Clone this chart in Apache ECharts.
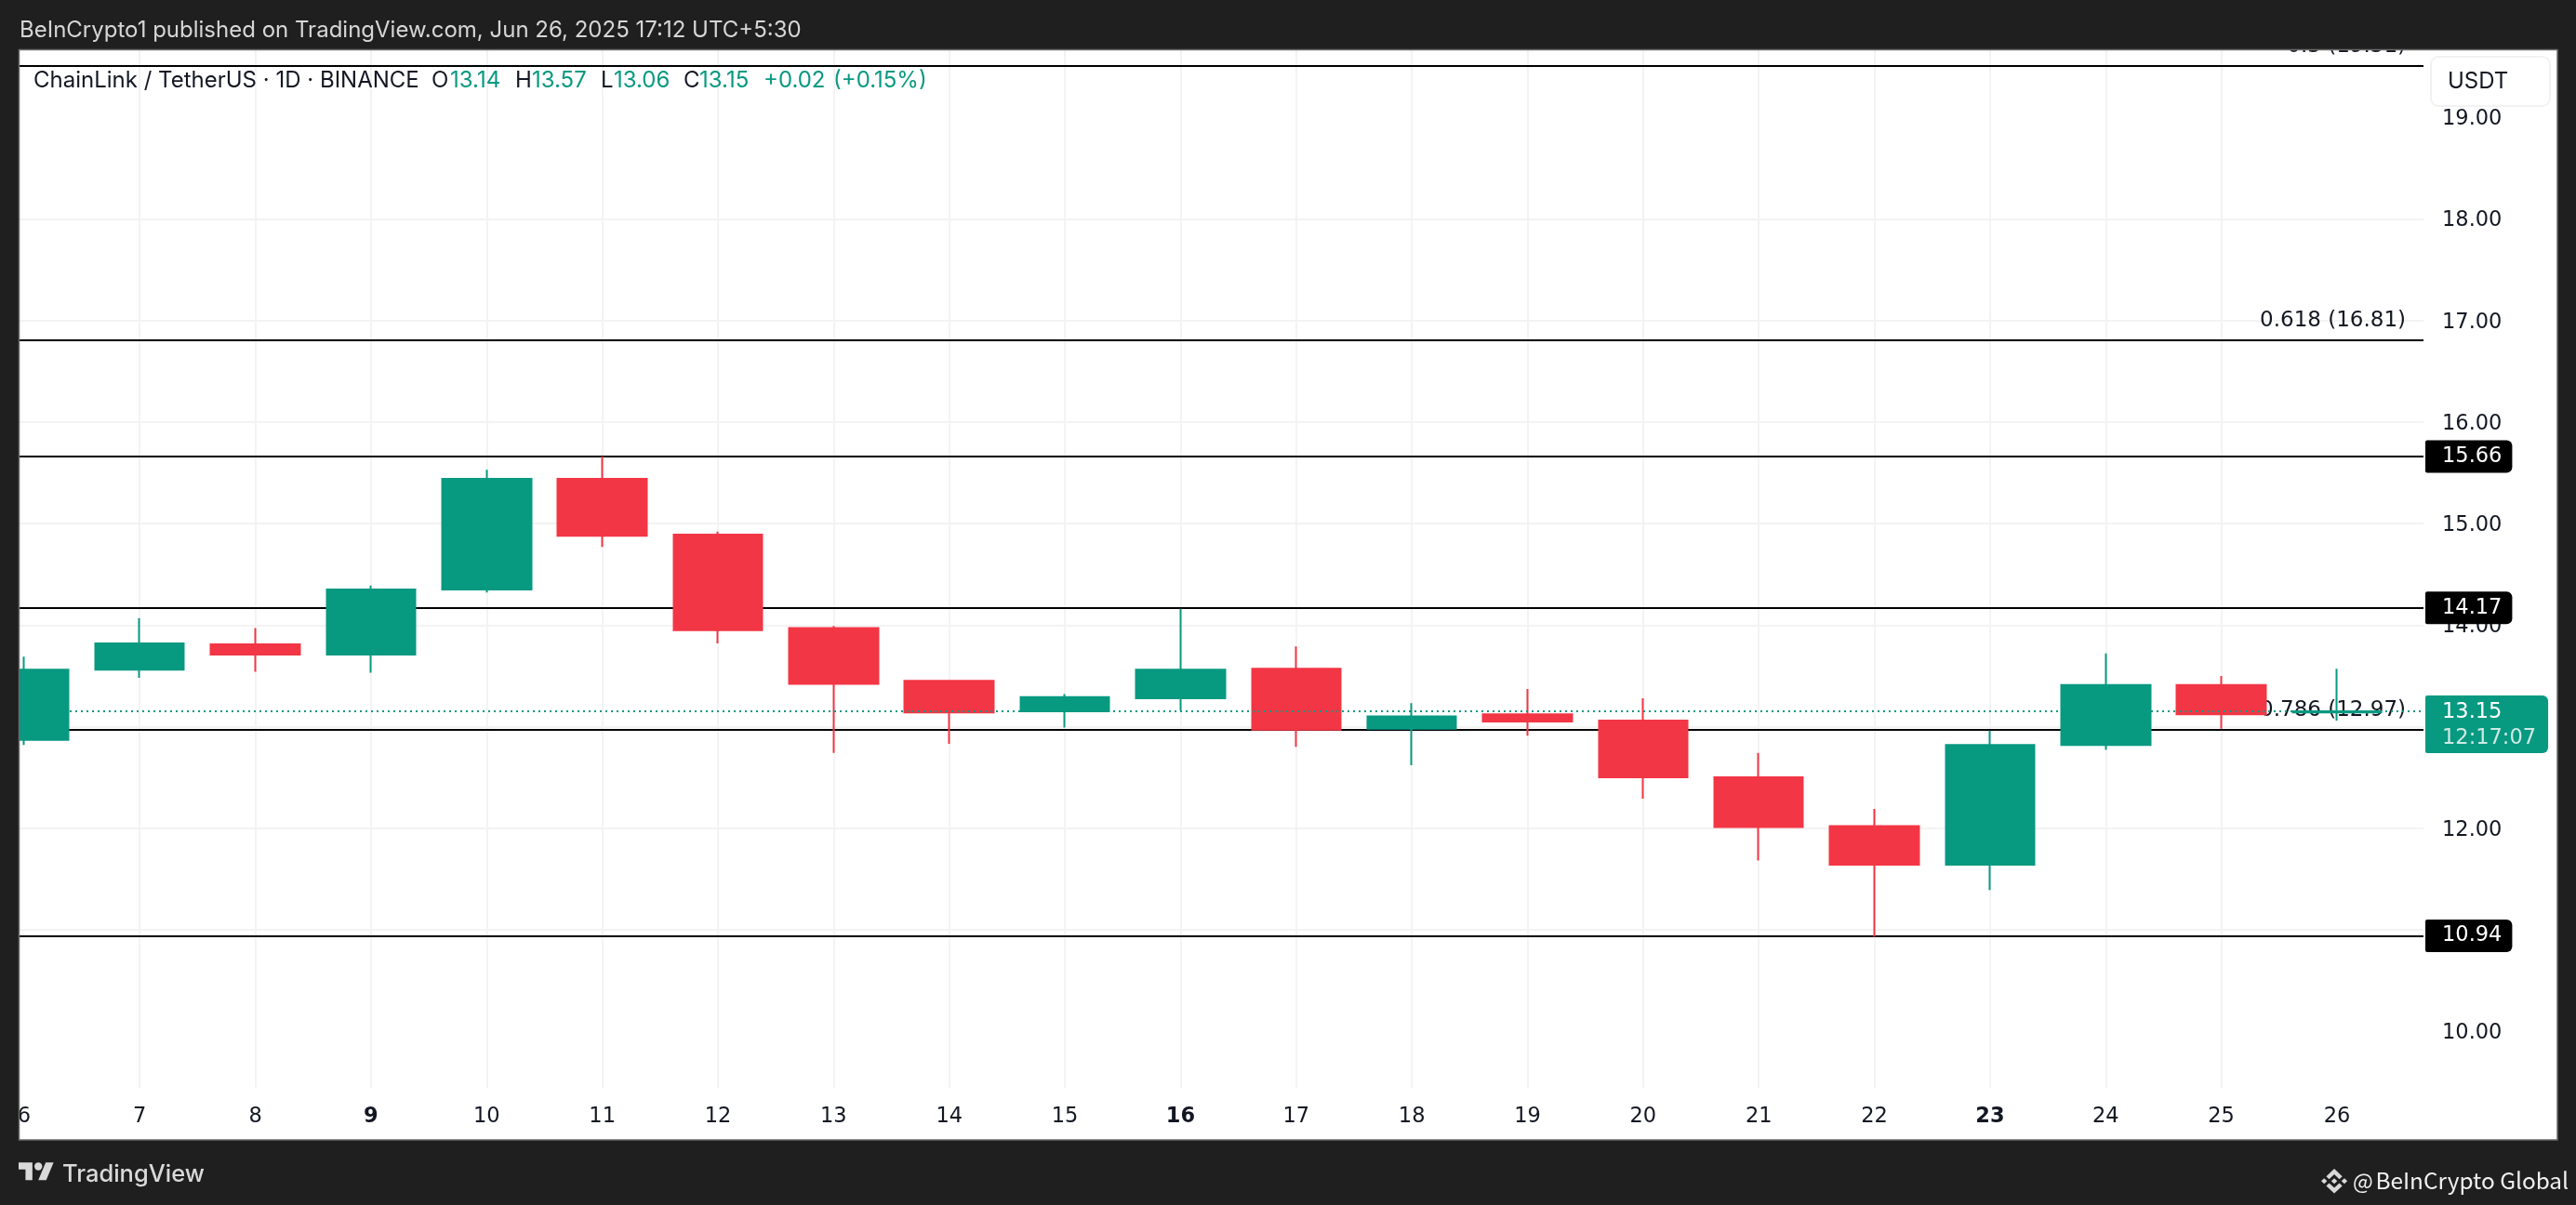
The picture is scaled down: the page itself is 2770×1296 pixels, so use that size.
<!DOCTYPE html>
<html>
<head>
<meta charset="utf-8">
<title>ChainLink / TetherUS</title>
<script src="https://cdn.jsdelivr.net/npm/echarts@6/dist/echarts.min.js"></script>
<style>
  html, body { margin: 0; padding: 0; background: #1f1f1f; }
  #chart { width: 2770px; height: 1296px; }
</style>
</head>
<body>
<div id="chart"></div>
<script>
const days = [6, 7, 8, 9, 10, 11, 12, 13, 14, 15, 16, 17, 18, 19, 20, 21, 22, 23, 24, 25, 26];
const opens = [12.87, 13.56, 13.81, 13.71, 14.35, 15.44, 14.89, 13.97, 13.45, 13.15, 13.28, 13.57, 12.98, 13.12, 13.06, 12.50, 12.02, 11.64, 12.82, 13.41, 13.14];
const closes = [13.56, 13.82, 13.71, 14.35, 15.44, 14.88, 13.95, 13.42, 13.14, 13.29, 13.56, 12.97, 13.10, 13.05, 12.50, 12.01, 11.64, 12.82, 13.41, 13.12, 13.15];
const lows = [12.82, 13.48, 13.54, 13.53, 14.32, 14.77, 13.82, 12.74, 12.83, 12.99, 13.16, 12.80, 12.62, 12.91, 12.29, 11.68, 10.93, 11.39, 12.77, 12.98, 13.06];
const highs = [13.69, 14.07, 13.97, 14.39, 15.53, 15.66, 14.92, 13.99, 13.46, 13.32, 14.16, 13.79, 13.23, 13.37, 13.28, 12.74, 12.19, 12.96, 13.72, 13.50, 13.57];

const priceTicks = [10, 11, 12, 13, 14, 15, 16, 17, 18, 19];
const boldDays = [9, 16, 23];

const fibLevels = [19.51, 16.81, 12.97];
const fibNames = ['0.5', '0.618', '0.786'];
const tagLevels = [15.66, 14.17, 10.94];
const lastPrice = 13.15;
const countdown = '12:17:07';

const legendTexts = ['ChainLink / TetherUS · 1D · BINANCE', 'O', '13.14', 'H', '13.57', 'L', '13.06', 'C', '13.15', '+0.02', '(+0.15%)'];
const legendLeft = [36, 464, 484, 554, 572, 646, 660, 735, 752, 821, 896];

const xMin = 5.961, xMax = 26.748;
const yMin = 9.442, yMax = 19.662;

const UP = '#089981', DOWN = '#f23645';
const FONT = 'DejaVu Sans';
const BAND = '#1f1f1f';
const LOGO = '#d9d9d9';

const fibLines = fibLevels.map((v, i) => ({
  yAxis: v,
  label: {
    show: true,
    position: 'insideEndTop',
    distance: [19, 9],
    formatter: fibNames[i] + ' (' + v.toFixed(2) + ')',
    color: '#131722',
    fontFamily: FONT,
    fontSize: 23
  }
}));

const tagLines = tagLevels.map(v => ({
  yAxis: v,
  label: {
    show: true,
    position: 'end',
    distance: 2,
    formatter: v.toFixed(2),
    color: '#fff',
    backgroundColor: '#000',
    borderRadius: [2, 6, 6, 2],
    padding: [7, 11, 5, 18],
    fontFamily: FONT,
    fontSize: 22.5
  }
}));

// logos are plain polygons, the graphic component has no path type
function logoPiece(points, x, y, sx, sy) {
  return { type: 'polygon', z: 102, x: x, y: y, scaleX: sx, scaleY: sy, shape: { points: points }, style: { fill: LOGO } };
}
const tvPieces = [
  [[0, 4], [14, 4], [14, 22], [7, 22], [7, 11], [0, 11]],
  [[20, 22], [27.5, 4], [35.5, 4], [28, 22]]
];
const binancePieces = [
  [[38.7, 53.2], [63.3, 28.6], [87.9, 53.2], [102.2, 38.9], [63.3, 0], [24.4, 38.9]],
  [[0, 63.3], [14.3, 49], [28.6, 63.3], [14.3, 77.6]],
  [[38.7, 73.4], [63.3, 98], [87.9, 73.4], [102.2, 87.7], [63.3, 126.6], [24.4, 87.7]],
  [[98, 63.3], [112.3, 49], [126.6, 63.3], [112.3, 77.6]],
  [[63.3, 48.8], [77.8, 63.3], [63.3, 77.8], [48.8, 63.3]]
];

const legendItems = legendTexts.map((t, i) => ({
  type: 'text', z: 102, x: legendLeft[i], y: 87,
  style: {
    text: t,
    fill: (i === 0 || legendTexts[i].length === 1) ? '#131722' : UP,
    font: '24px Inter',
    textVerticalAlign: 'middle'
  }
}));

const option = {
  animation: false,
  backgroundColor: BAND,
  grid: { left: 21, right: 164, top: 54, bottom: 126 },
  xAxis: {
    type: 'value',
    min: xMin,
    max: xMax,
    axisLine: { show: false },
    axisTick: { show: false, customValues: days },
    splitLine: { show: true, showMinLine: false, showMaxLine: false, lineStyle: { color: '#f3f3f3', width: 2 } },
    axisLabel: {
      customValues: days,
      margin: 20,
      color: '#131722',
      fontFamily: FONT,
      fontSize: 22.5,
      formatter: v => boldDays.includes(v) ? '{b|' + v + '}' : String(v),
      rich: { b: { fontFamily: FONT, fontSize: 22.5, fontWeight: 700, color: '#131722' } }
    }
  },
  yAxis: {
    type: 'value',
    position: 'right',
    min: yMin,
    max: yMax,
    axisLine: { show: false },
    axisTick: { show: false, customValues: priceTicks },
    splitLine: { show: true, showMinLine: false, showMaxLine: false, lineStyle: { color: '#f3f3f3', width: 2 } },
    axisLabel: {
      customValues: priceTicks,
      margin: 20,
      formatter: v => '{p|' + v.toFixed(2) + '}',
      rich: { p: { color: '#131722', fontFamily: FONT, fontSize: 22.5, padding: [4, 0, 0, 0] } }
    }
  },
  series: [
    {
      type: 'candlestick',
      barWidth: 96,
      data: days.map((d, i) => [d, opens[i], closes[i], lows[i], highs[i]]),
      itemStyle: { color: UP, color0: DOWN, borderColor: UP, borderColor0: DOWN, borderWidth: 2 }
    },
    {
      // levels sit under the candles, their z is below the candlestick series
      type: 'line',
      data: [],
      markLine: {
        z: 1,
        silent: true,
        symbol: 'none',
        lineStyle: { color: '#000', width: 2, type: 'solid' },
        data: fibLines.concat(tagLines)
      }
    },
    {
      // last price, dotted line stays over the candles
      type: 'line',
      data: [],
      markLine: {
        z: 5,
        silent: true,
        symbol: 'none',
        label: { show: false },
        lineStyle: { color: UP, width: 2, type: [2, 4] },
        data: [{ yAxis: lastPrice }]
      },
      markPoint: {
        z: 6,
        silent: true,
        symbol: 'circle',
        symbolSize: 0,
        data: [{
          coord: [xMax, lastPrice],
          label: {
            show: true,
            position: 'right',
            distance: 2,
            offset: [0, 14],
            backgroundColor: UP,
            borderRadius: [2, 6, 6, 2],
            padding: [4, 13, 2, 18],
            formatter: '{a|' + lastPrice.toFixed(2) + '}\n{b|' + countdown + '}',
            rich: {
              a: { color: '#fff', fontFamily: FONT, fontSize: 22.5, lineHeight: 28 },
              b: { color: '#cfe9e3', fontFamily: FONT, fontSize: 22.5, lineHeight: 28 }
            }
          }
        }]
      }
    }
  ],
  graphic: [
    { type: 'rect', z: -1, shape: { x: 21, y: 54, width: 2729, height: 1172 }, style: { fill: '#fff' } },
    // dark page edges go over the chart so it gets clipped at the panel
    { type: 'rect', z: 100, shape: { x: 0, y: 0, width: 2770, height: 54 }, style: { fill: BAND } },
    { type: 'rect', z: 100, shape: { x: 0, y: 0, width: 20, height: 1296 }, style: { fill: BAND } },
    { type: 'rect', z: 101, shape: { x: 20.5, y: 53.5, width: 2729.5, height: 1172.5 }, style: { fill: 'none', stroke: '#6a6a6a', lineWidth: 1.5 } },
    {
      type: 'text', z: 102, x: 21, y: 33,
      style: { text: 'BeInCrypto1 published on TradingView.com, Jun 26, 2025 17:12 UTC+5:30', fill: '#d6d6d6', font: '24px Inter', textVerticalAlign: 'middle' }
    },
    ...legendItems,
    { type: 'rect', z: 102, shape: { x: 2614, y: 61, width: 128, height: 53, r: 8 }, style: { fill: '#fff', stroke: '#f2f2f2', lineWidth: 2 } },
    { type: 'text', z: 103, x: 2632, y: 88, style: { text: 'USDT', fill: '#131722', font: '24px Inter', textVerticalAlign: 'middle' } },
    logoPiece(tvPieces[0], 20, 1246, 1.06, 1.06),
    logoPiece(tvPieces[1], 20, 1246, 1.06, 1.06),
    { type: 'circle', z: 102, shape: { cx: 41.2, cy: 1254.5, r: 4.2 }, style: { fill: LOGO } },
    { type: 'text', z: 102, x: 67, y: 1263, style: { text: 'TradingView', fill: LOGO, font: '500 25.5px Inter', textVerticalAlign: 'middle' } },
    ...binancePieces.map(p => logoPiece(p, 2496, 1257, 0.222, 0.21)),
    { type: 'text', z: 102, x: 2530, y: 1270, style: { text: '@', fill: '#f0f0f0', font: '23px "Noto Sans CJK JP"', textVerticalAlign: 'middle' } },
    { type: 'text', z: 102, x: 2762, y: 1270, style: { text: 'BeInCrypto Global', fill: '#f0f0f0', font: '24.4px "Noto Sans CJK JP"', textAlign: 'right', textVerticalAlign: 'middle' } }
  ]
};

const chart = echarts.init(document.getElementById('chart'), null, { renderer: 'canvas', width: 2770, height: 1296 });
chart.setOption(option);
</script>
</body>
</html>
